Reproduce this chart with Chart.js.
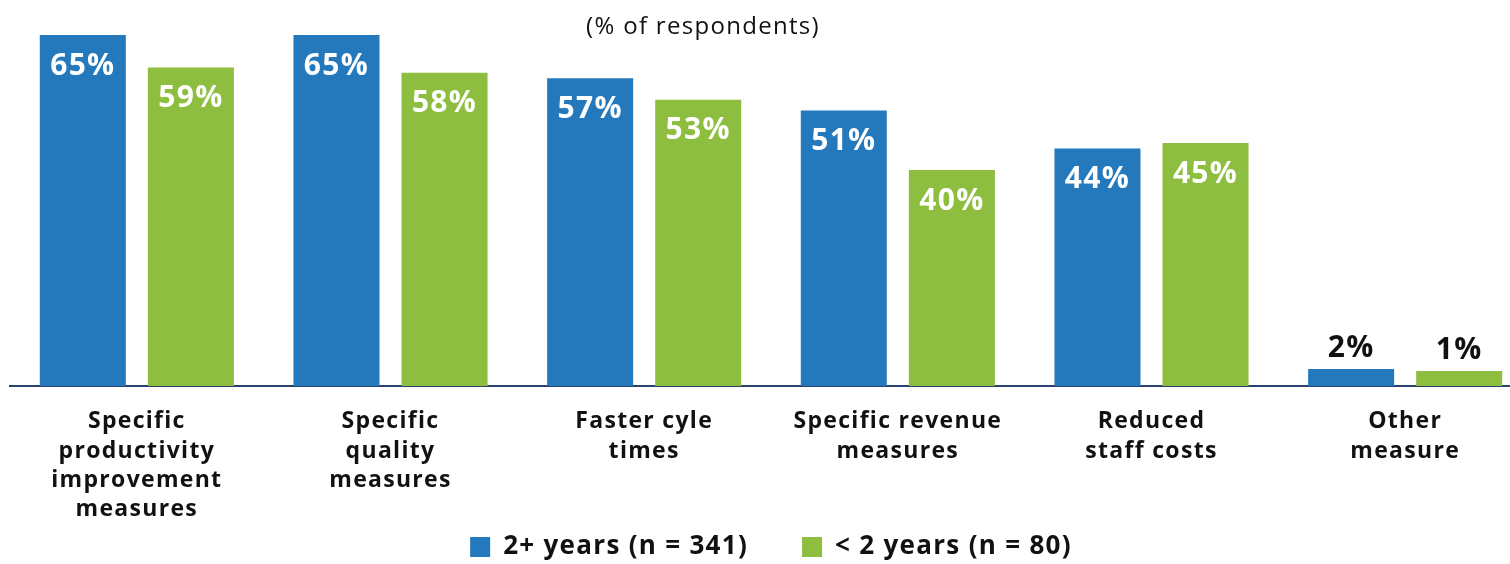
<!DOCTYPE html>
<html>
<head>
<meta charset="utf-8">
<script src="https://cdn.jsdelivr.net/npm/chart.js@4.4.1/dist/chart.umd.min.js"></script>
<style>
  html, body { margin: 0; padding: 0; background: #fff; overflow: hidden; }
  #wrap { width: 1532px; height: 564px; }
</style>
</head>
<body>
<div id="wrap"><canvas id="chart" width="1532" height="564"></canvas></div>
<script>
const categories = [
    ["Specific", "productivity", "improvement", "measures"],
    ["Specific", "quality", "measures"],
    ["Faster cyle", "times"],
    ["Specific revenue", "measures"],
    ["Reduced", "staff costs"],
    ["Other", "measure"]
];
const seriesNames = ["2+ years (n = 341)", "< 2 years (n = 80)"];
const moreThan2Years = [65, 65, 57, 51, 44, 2];
const lessThan2Years = [59, 58, 53, 40, 45, 1];
const subtitle = "(% of respondents)";

const FONT = "'Open Sans', 'DejaVu Sans', sans-serif";

// the original font is wider than Open Sans, so open the letters up a bit
const spacing = {
    id: "spacing",
    beforeUpdate(chart) { chart.ctx.letterSpacing = "1.3px"; },
    beforeDraw(chart) { chart.ctx.letterSpacing = "1.3px"; }
};

// legend only reserves a thin band; pull it up so it sits under the labels
const legendShift = {
    id: "legendShift",
    afterLayout(chart) {
        if (chart.legend) chart.legend.top = 480;
    }
};

// Draw the value labels: white inside tall bars, dark above short ones
const valueLabels = {
    id: "valueLabels",
    afterDatasetsDraw(chart) {
        const ctx = chart.ctx;
        ctx.save();
        ctx.font = "bold 30px " + FONT;
        ctx.textAlign = "center";
        ctx.textBaseline = "middle";
        chart.data.datasets.forEach((ds, i) => {
            chart.getDatasetMeta(i).data.forEach((bar, j) => {
                const v = ds.data[j];
                if (v >= 10) {
                    ctx.fillStyle = "#ffffff";
                    ctx.fillText(v + "%", bar.x, bar.y + 31);
                } else {
                    ctx.fillStyle = "#111111";
                    ctx.fillText(v + "%", bar.x, bar.y - 21);
                }
            });
        });
        ctx.restore();
    }
};

// Subtitle sits inside the plot area, between the bars
const subtitlePlugin = {
    id: "subtitlePlugin",
    afterDraw(chart) {
        const ctx = chart.ctx;
        ctx.save();
        ctx.font = "24px " + FONT;
        ctx.fillStyle = "#111111";
        ctx.textAlign = "center";
        ctx.textBaseline = "middle";
        ctx.fillText(subtitle, 703, 27);
        ctx.restore();
    }
};

const ctx = document.getElementById("chart").getContext("2d");
new Chart(ctx, {
    type: "bar",
    data: {
        labels: categories,
        datasets: [{
            label: seriesNames[0],
            data: moreThan2Years,
            backgroundColor: "#2479BD",
            minBarLength: 17
        }, {
            label: seriesNames[1],
            data: lessThan2Years,
            backgroundColor: "#8DBE3F",
            minBarLength: 15
        }]
    },
    options: {
        responsive: false,
        animation: false,
        layout: { padding: { left: 10, right: 0, top: 8, bottom: 0 } },
        categoryPercentage: 0.852,
        barPercentage: 0.796,
        scales: {
            x: {
                grid: { display: false, drawTicks: false },
                border: { display: true, color: "#2B4170", width: 2 },
                ticks: {
                    color: "#111111",
                    padding: 21,
                    maxRotation: 0,
                    autoSkip: false,
                    font: { family: FONT, size: 23, weight: "bold", lineHeight: 1.275 }
                },
                afterFit(scale) { scale.height = 138; }
            },
            y: {
                display: false,
                min: 0,
                max: 70
            }
        },
        plugins: {
            legend: {
                position: "bottom",
                maxHeight: 40,
                labels: {
                    boxWidth: 20,
                    boxHeight: 20,
                    padding: 54,
                    color: "#111111",
                    font: { family: FONT, size: 26, weight: "bold" }
                }
            },
            tooltip: { enabled: false },
            title: { display: false }
        }
    },
    plugins: [spacing, legendShift, valueLabels, subtitlePlugin]
});
</script>
</body>
</html>
